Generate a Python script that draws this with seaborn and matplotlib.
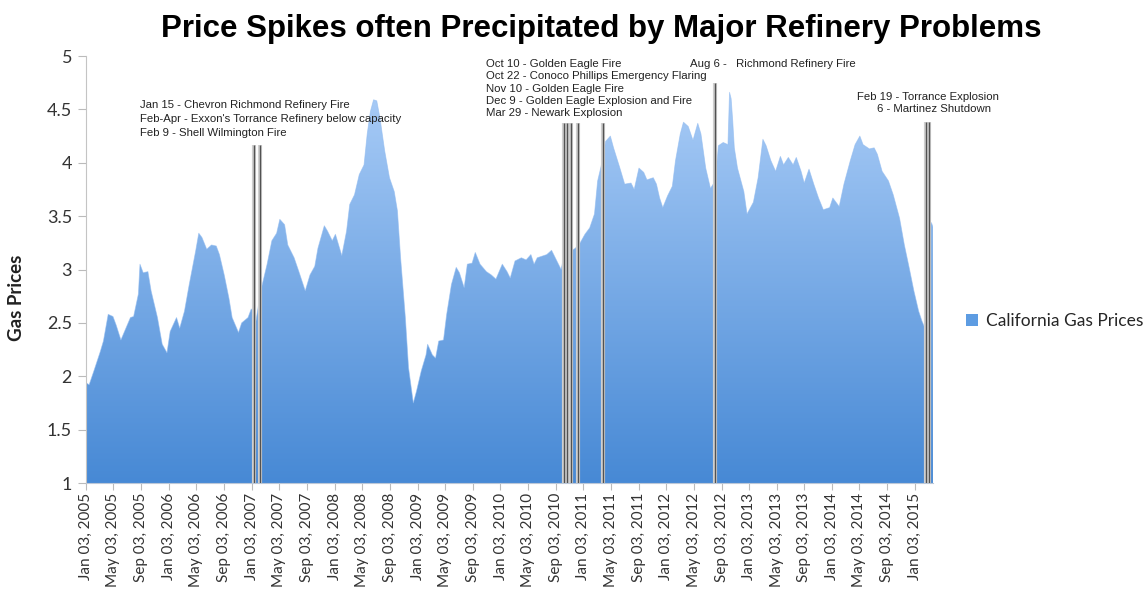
import numpy as np
import pandas as pd
import matplotlib
matplotlib.use("Agg")
import matplotlib.pyplot as plt
import matplotlib.dates as mdates
from matplotlib.patches import Patch
from matplotlib.colors import LinearSegmentedColormap
import seaborn as sns

# weekly california gas prices (week number since 2005-01-03)
week = [0, 2, 5, 9, 11, 14, 17, 19, 22, 26, 28, 30, 33, 34, 36, 39, 41, 45, 48, 51,
        53, 57, 59, 62, 65, 69, 71, 73, 76, 79, 82, 84, 87, 90, 92, 96, 98, 102, 104, 106,
        107, 110, 114, 117, 120, 122, 125, 127, 131, 134, 138, 141, 144, 146, 150, 152, 155, 157, 159, 161,
        164, 166, 169, 172, 175, 177, 179, 181, 183, 185, 188, 191, 194, 196, 198, 201, 203, 206, 208, 211,
        214, 215, 218, 220, 222, 225, 227, 230, 233, 235, 238, 240, 243, 245, 248, 252, 255, 258, 262, 265,
        267, 270, 274, 277, 280, 282, 284, 288, 290, 293, 296, 299, 301, 305, 308, 311, 314, 317, 320, 322,
        325, 327, 330, 332, 336, 339, 343, 345, 348, 351, 353, 357, 359, 361, 363, 366, 369, 371, 374, 376,
        379, 382, 385, 387, 390, 393, 396, 398, 401, 404, 405, 406, 407, 408, 410, 414, 416, 420, 423, 426,
        428, 431, 434, 437, 439, 442, 445, 447, 450, 452, 455, 458, 461, 464, 468, 470, 474, 477, 481, 484,
        487, 489, 493, 496, 498, 501, 505, 508, 512, 515, 518, 521, 524, 526, 528, 529, 530, 531, 532, 533]
price = [1.94, 1.92, 2.05, 2.23, 2.33, 2.58, 2.56, 2.48, 2.34, 2.48, 2.55, 2.56, 2.77, 3.05, 2.97, 2.98, 2.80, 2.55, 2.30, 2.22,
         2.42, 2.55, 2.45, 2.61, 2.86, 3.17, 3.34, 3.30, 3.19, 3.23, 3.22, 3.14, 2.95, 2.73, 2.55, 2.41, 2.50, 2.55, 2.63, 2.61,
         2.52, 2.80, 3.05, 3.27, 3.34, 3.47, 3.42, 3.23, 3.11, 2.98, 2.80, 2.95, 3.03, 3.20, 3.41, 3.36, 3.27, 3.33, 3.23, 3.13,
         3.36, 3.61, 3.70, 3.89, 3.98, 4.27, 4.48, 4.59, 4.58, 4.42, 4.11, 3.86, 3.73, 3.55, 3.11, 2.55, 2.08, 1.75, 1.86, 2.05,
         2.20, 2.30, 2.20, 2.17, 2.33, 2.34, 2.58, 2.86, 3.02, 2.97, 2.83, 3.05, 3.06, 3.16, 3.05, 2.98, 2.95, 2.91, 3.05, 2.98,
         2.92, 3.08, 3.11, 3.09, 3.14, 3.05, 3.11, 3.13, 3.14, 3.18, 3.09, 3.00, 3.14, 3.17, 3.20, 3.25, 3.33, 3.39, 3.52, 3.83,
         4.02, 4.20, 4.25, 4.14, 3.95, 3.80, 3.81, 3.75, 3.95, 3.91, 3.84, 3.86, 3.80, 3.67, 3.58, 3.69, 3.78, 4.02, 4.27, 4.38,
         4.34, 4.21, 4.37, 4.27, 3.95, 3.76, 3.83, 4.16, 4.19, 4.17, 4.66, 4.60, 4.39, 4.14, 3.95, 3.73, 3.52, 3.63, 3.86, 4.22,
         4.16, 4.02, 3.92, 4.06, 3.98, 4.05, 3.98, 4.05, 3.92, 3.81, 3.94, 3.80, 3.67, 3.56, 3.58, 3.67, 3.59, 3.80, 4.02, 4.17,
         4.25, 4.17, 4.13, 4.14, 4.08, 3.92, 3.83, 3.70, 3.48, 3.23, 3.02, 2.80, 2.61, 2.52, 2.45, 2.60, 2.90, 3.35, 3.44, 3.40]

# refinery incidents
event_dates = ["2007-01-15", "2007-02-09",
               "2010-10-10", "2010-10-22", "2010-11-10", "2010-12-09", "2011-03-29",
               "2012-08-06",
               "2015-02-19", "2015-03-06"]
event_top = [4.17, 4.17, 4.37, 4.37, 4.37, 4.37, 4.37, 4.75, 4.38, 4.38]

notes_2007 = ["Jan 15 - Chevron Richmond Refinery Fire",
              "Feb-Apr - Exxon's Torrance Refinery below capacity",
              "Feb 9 - Shell Wilmington Fire"]
notes_2010 = ["Oct 10 - Golden Eagle Fire",
              "Oct 22 - Conoco Phillips Emergency Flaring",
              "Nov 10 - Golden Eagle Fire",
              "Dec 9 - Golden Eagle Explosion and Fire",
              "Mar 29 - Newark Explosion"]
note_2012 = "Aug 6 -   Richmond Refinery Fire"
notes_2015 = ["Feb 19 - Torrance Explosion", "6 - Martinez Shutdown"]

df = pd.DataFrame({"date": pd.Timestamp("2005-01-03") + pd.to_timedelta(np.array(week) * 7, unit="D"),
                   "price": price})

sns.set_style("white")
plt.rcParams["font.family"] = ["Lato", "DejaVu Sans"]
arial = ["Liberation Sans", "DejaVu Sans"]

fig = plt.figure(figsize=(11.46, 5.91), dpi=100)
ax = fig.add_axes([0.075, 0.1827, 0.7391, 0.7225])

# gradient area fill, clipped to the price polygon
poly = ax.fill_between(df["date"], 1, df["price"], color="none", lw=0)
xn = mdates.date2num(df["date"])
cmap = LinearSegmentedColormap.from_list("blue", ["#4789d5", "#a9ccf7"])
grad = np.linspace(0, 1, 256).reshape(-1, 1)
im = ax.imshow(grad, cmap=cmap, aspect="auto", origin="lower",
               extent=[xn[0], xn[-1], 1, 4.7], zorder=1)
im.set_clip_path(poly.get_paths()[0], transform=ax.transData)
sns.lineplot(data=df, x="date", y="price", ax=ax, color="#8fbaf0", lw=0.6, alpha=0.6, zorder=2)

# event lines
ev = pd.to_datetime(event_dates)
ax.vlines(ev, 1, event_top, color="#cfcfcf", lw=3, zorder=3)
ax.vlines(ev, 1, event_top, color="#3c3c3c", lw=1, alpha=0.85, zorder=4)

# annotations, one text per line
kw = dict(fontsize=8.2, family=arial, va="center", ha="left", color="#222222")
for i, s in enumerate(notes_2007):
    ax.text(pd.Timestamp("2005-08-29"), 4.54 - i * 0.131, s, **kw)
for i, s in enumerate(notes_2010):
    ax.text(pd.Timestamp("2009-11-02"), 4.925 - i * 0.115, s, **kw)
ax.text(pd.Timestamp("2012-04-16"), 4.925, note_2012, **kw)
ax.text(pd.Timestamp("2014-04-21"), 4.616, notes_2015[0], **kw)
ax.text(pd.Timestamp("2014-07-21"), 4.503, notes_2015[1], **kw)

# axes
ax.set_xlim(df["date"].iloc[0], df["date"].iloc[-1])
ax.set_ylim(1, 5)
ticks = [pd.Timestamp(f"{y}-{m:02d}-03") for y in range(2005, 2016) for m in (1, 5, 9)]
ticks = [t for t in ticks if t <= pd.Timestamp("2015-01-03")]
ax.set_xticks(ticks)
ax.set_xticklabels([t.strftime("%b %d, %Y") for t in ticks], rotation=90, fontsize=11, color="#333333")
ax.set_yticks(np.arange(1, 5.01, 0.5))
ax.set_yticklabels([f"{v:g}" for v in np.arange(1, 5.01, 0.5)], fontsize=13, color="#333333")
ax.tick_params(axis="x", bottom=True, length=5, width=0.8, color="#bbbbbb", pad=2)
ax.tick_params(axis="y", left=True, length=6, width=0.8, color="#bbbbbb", pad=4)
sns.despine(ax=ax, top=True, right=True)
ax.spines["left"].set_color("#c4c4c4")
ax.spines["bottom"].set_color("#bcc8d8")
ax.set_xlabel("")
ax.set_ylabel("Gas Prices", fontsize=13.5, fontweight="bold", color="#222222")
ax.yaxis.set_label_coords(-0.072, 0.433)

fig.text(0.525, 0.951, "Price Spikes often Precipitated by Major Refinery Problems",
         ha="center", va="center", fontsize=22.5, fontweight="bold", family=arial, color="black")

fig.legend(handles=[Patch(facecolor="#5d9ce2", edgecolor="none", label="California Gas Prices")],
           loc="center left", bbox_to_anchor=(957 / 1146, 1 - 321 / 591), frameon=False,
           fontsize=12.5, handlelength=0.7, handleheight=0.7, handletextpad=0.45, borderpad=0)

fig.savefig("out.png", dpi=100)
